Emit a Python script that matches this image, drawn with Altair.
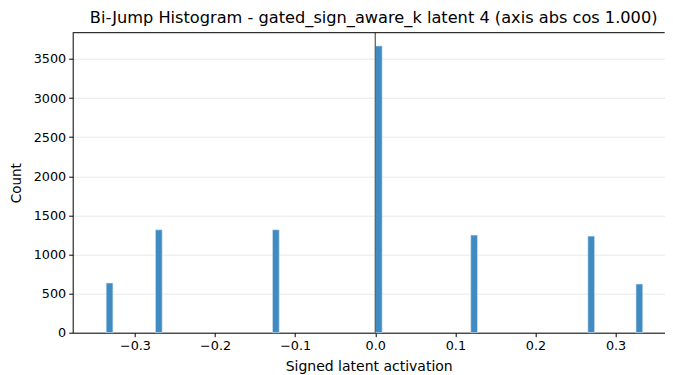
import altair as alt
import pandas as pd

bin_start = [-0.3359, -0.2744, -0.1283, 0.0002, 0.1192, 0.2654, 0.3255]
bin_width = 0.0084
counts = [635, 1316, 1316, 3666, 1248, 1235, 622]

df = pd.DataFrame({
    "x0": bin_start,
    "x1": [b + bin_width for b in bin_start],
    "count": counts,
})

W = 592
H = 300

xscale = alt.Scale(domain=[-0.3777, 0.3613], nice=False, zero=False)
yscale = alt.Scale(domain=[0, 3836], nice=False)

font = "DejaVu Sans"

bars = alt.Chart(df).mark_bar(
    color="#3f8bc2", stroke="#d6e6f2", strokeWidth=0.6
).encode(
    x=alt.X("x0:Q", scale=xscale, title="Signed latent activation",
            axis=alt.Axis(values=[-0.3, -0.2, -0.1, 0.0, 0.1, 0.2, 0.3], format=".1f",
                          grid=False, tickColor="#000", domainColor="#000",
                          labelColor="#000", titleColor="#000",
                          labelFontSize=12.8, titleFontSize=14, labelFont=font, titleFont=font,
                          tickSize=4, labelPadding=3, titlePadding=7, titleFontWeight="normal")),
    x2="x1:Q",
    y=alt.Y("count:Q", scale=yscale, title="Count",
            axis=alt.Axis(values=[0, 500, 1000, 1500, 2000, 2500, 3000, 3500], format="d",
                          grid=True, gridColor="#e3e3e3", gridWidth=0.8,
                          tickColor="#000", domainColor="#000",
                          labelColor="#000", titleColor="#000",
                          labelFontSize=12.8, titleFontSize=13.5, labelFont=font, titleFont=font,
                          tickSize=4, labelPadding=3, titlePadding=10, titleFontWeight="normal")),
    y2=alt.datum(0),
)

vline = alt.Chart(pd.DataFrame({"v": [0.0]})).mark_rule(color="#555555", strokeWidth=1.2).encode(
    x=alt.X("v:Q", scale=xscale)
)

top_spine = alt.Chart(pd.DataFrame({"a": [0]})).mark_rule(color="#000", strokeWidth=1).encode(
    x=alt.value(0), x2=alt.value(W), y=alt.value(0)
)

chart = alt.layer(bars, vline, top_spine).properties(
    width=W,
    height=H,
    title=alt.TitleParams(
        "Bi-Jump Histogram - gated_sign_aware_k latent 4 (axis abs cos 1.000)",
        font=font, fontSize=16.2, fontWeight="normal", color="#000", offset=6, dx=5,
    ),
    autosize=alt.AutoSizeParams(type="none"),
    padding={"left": 64.7, "top": 24.7, "right": 0, "bottom": 42},
).configure_view(
    strokeWidth=0
).configure_axis(
    domainWidth=1
)

chart.save("out.html", embed_options={"renderer": "svg", "actions": False})
